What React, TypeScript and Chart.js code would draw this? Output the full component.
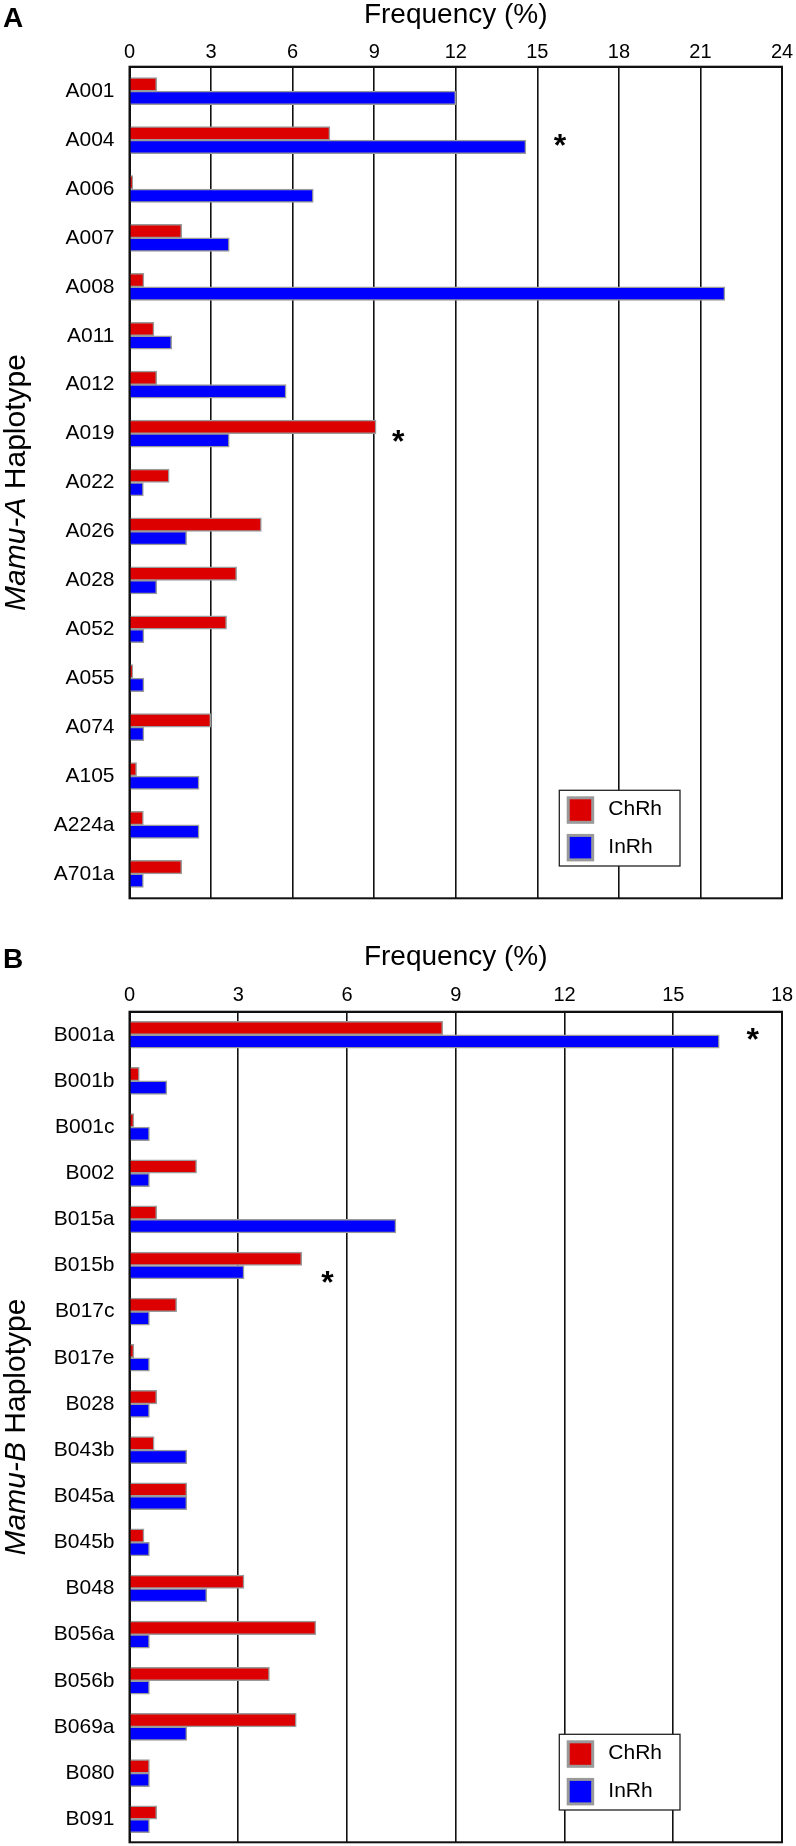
import React, { useEffect, useRef } from 'react';
import { Chart, registerables } from 'chart.js';

Chart.register(...registerables);

const FONT = '"Liberation Sans", Arial, Helvetica, sans-serif';

// ---- shared series ----
const seriesNames = ['ChRh', 'InRh'];
const seriesColors = ['#dd0000', '#0000ff'];
const xTitle = 'Frequency (%)';

// ---- Panel A: Mamu-A ----
const categoriesA = ['A001', 'A004', 'A006', 'A007', 'A008', 'A011', 'A012', 'A019', 'A022', 'A026', 'A028', 'A052', 'A055', 'A074', 'A105', 'A224a', 'A701a'];
const chrhA = [1.0, 7.37, 0.12, 1.92, 0.53, 0.9, 1.0, 9.07, 1.46, 4.85, 3.94, 3.57, 0.12, 2.99, 0.26, 0.51, 1.92];
const inrhA = [12.0, 14.58, 6.76, 3.67, 21.9, 1.55, 5.76, 3.67, 0.51, 2.1, 1.0, 0.53, 0.53, 0.53, 2.56, 2.56, 0.51];
const ticksA = [0, 3, 6, 9, 12, 15, 18, 21, 24];
const starLabelsA = ['A004', 'A019'];
const starValuesA = [15.83, 9.88];

// ---- Panel B: Mamu-B ----
const categoriesB = ['B001a', 'B001b', 'B001c', 'B002', 'B015a', 'B015b', 'B017c', 'B017e', 'B028', 'B043b', 'B045a', 'B045b', 'B048', 'B056a', 'B056b', 'B069a', 'B080', 'B091'];
const chrhB = [8.64, 0.27, 0.12, 1.85, 0.75, 4.75, 1.3, 0.12, 0.75, 0.68, 1.58, 0.4, 3.16, 5.14, 3.86, 4.6, 0.55, 0.75];
const inrhB = [16.27, 1.03, 0.55, 0.55, 7.35, 3.16, 0.55, 0.55, 0.55, 1.58, 1.58, 0.55, 2.13, 0.55, 0.55, 1.58, 0.55, 0.55];
const ticksB = [0, 3, 6, 9, 12, 15, 18];
const starLabelsB = ['B001a', 'B015b'];
const starValuesB = [17.19, 5.46];

type PanelProps = {
  letter: string;
  gene: string;
  categories: string[];
  chrh: number[];
  inrh: number[];
  ticks: number[];
  starLabels: string[];
  starValues: number[];
  starDy: number[];
  top: number;
  height: number;
  padBottom: number;
  xAxisHeight: number;
  tickPad: number;
  titlePad: number;
  letterBaseline: number;
};

function Panel(p: PanelProps) {
  const ref = useRef<HTMLCanvasElement>(null);
  useEffect(() => {
    const canvas = ref.current!;
    const annot = {
      id: 'annot',
      afterDraw(chart: any) {
        const { ctx, chartArea: a, scales } = chart;
        const x = scales.x;
        const y = scales.y;
        ctx.save();
        // frame
        ctx.strokeStyle = '#111';
        ctx.lineWidth = 2;
        ctx.strokeRect(a.left, a.top, a.right - a.left, a.bottom - a.top);

        // panel letter
        ctx.fillStyle = '#000';
        ctx.font = `bold 28px ${FONT}`;
        ctx.textAlign = 'left';
        ctx.textBaseline = 'alphabetic';
        ctx.fillText(p.letter, 3, p.letterBaseline);

        // asterisks
        const sf = 32;
        ctx.font = `bold ${sf}px ${FONT}`;
        ctx.textAlign = 'center';
        p.starLabels.forEach((lab, i) => {
          const idx = p.categories.indexOf(lab);
          const px = x.getPixelForValue(p.starValues[i]);
          const py = y.getPixelForValue(idx) + p.starDy[i];
          ctx.fillText('*', px, py + 0.57 * sf);
        });

        // legend
        const bw = 120.7;
        const bh = 75.7;
        const bx = a.right - 102 - bw;
        const by = a.bottom - 32.3 - bh;
        ctx.fillStyle = '#fff';
        ctx.fillRect(bx, by, bw, bh);
        ctx.strokeStyle = '#222';
        ctx.lineWidth = 1.3;
        ctx.strokeRect(bx, by, bw, bh);
        chart.data.datasets.forEach((ds: any, i: number) => {
          const sy = by + 6 + i * 37.6;
          ctx.fillStyle = '#9a9a9a';
          ctx.fillRect(bx + 7.4, sy, 27.5, 27.5);
          ctx.fillStyle = ds.backgroundColor;
          ctx.fillRect(bx + 10.4, sy + 3, 21.5, 21.5);
          ctx.fillStyle = '#000';
          ctx.font = `21px ${FONT}`;
          ctx.textAlign = 'left';
          ctx.textBaseline = 'middle';
          ctx.fillText(ds.label, bx + 49, by + 18.6 + i * 38);
        });

        // y title (rotated, partly italic)
        ctx.translate(24.8, (a.top + a.bottom) / 2);
        ctx.rotate(-Math.PI / 2);
        ctx.textBaseline = 'alphabetic';
        ctx.textAlign = 'left';
        ctx.fillStyle = '#000';
        const ital = `italic 30px ${FONT}`;
        const norm = `30px ${FONT}`;
        const t1 = `Mamu-${p.gene}`;
        const t2 = ' Haplotype';
        ctx.font = ital;
        const w1 = ctx.measureText(t1).width;
        ctx.font = norm;
        const w2 = ctx.measureText(t2).width;
        const sx = -(w1 + w2) / 2;
        ctx.font = ital;
        ctx.fillText(t1, sx, 0);
        ctx.font = norm;
        ctx.fillText(t2, sx + w1, 0);
        ctx.restore();
      },
    };

    const common = {
      borderColor: '#9a9a9a',
      borderWidth: 1.5,
      barThickness: 13.5,
    };

    const chart = new Chart(canvas, {
      type: 'bar',
      data: {
        labels: p.categories,
        datasets: [
          { label: seriesNames[0], data: p.chrh, backgroundColor: seriesColors[0], ...common },
          { label: seriesNames[1], data: p.inrh, backgroundColor: seriesColors[1], ...common },
        ],
      },
      options: {
        indexAxis: 'y',
        responsive: false,
        animation: false,
        devicePixelRatio: 1,
        layout: { padding: { top: 0, left: 0, right: 14, bottom: p.padBottom } },
        plugins: { legend: { display: false }, tooltip: { enabled: false } },
        scales: {
          x: {
            type: 'linear',
            position: 'top',
            min: p.ticks[0],
            max: p.ticks[p.ticks.length - 1],
            afterFit: (s: any) => {
              s.height = p.xAxisHeight;
              s.paddingLeft = 0;
              s.paddingRight = 0;
            },
            ticks: {
              stepSize: p.ticks[1] - p.ticks[0],
              padding: p.tickPad,
              color: '#000',
              font: { size: 20, family: FONT },
            },
            grid: { color: '#111', lineWidth: 1.6, drawTicks: false },
            border: { display: true, color: '#111', width: 2 },
            title: {
              display: true,
              text: xTitle,
              color: '#000',
              font: { size: 28, family: FONT, lineHeight: 1 },
              padding: { top: p.titlePad, bottom: 0 },
            },
          },
          y: {
            afterFit: (s: any) => {
              s.width = 129.5;
              s.paddingTop = 0;
              s.paddingBottom = 0;
            },
            grid: { display: false, drawTicks: false },
            border: { display: true, color: '#111', width: 2 },
            ticks: { padding: 15, color: '#000', font: { size: 21, family: FONT } },
          },
        },
      } as any,
      plugins: [annot],
    });
    return () => chart.destroy();
  }, []);

  return (
    <canvas
      ref={ref}
      width={796}
      height={p.height}
      style={{ position: 'absolute', left: 0, top: p.top, display: 'block', width: 796, height: p.height }}
    />
  );
}

export default function App() {
  return (
    <div style={{ position: 'absolute', left: 0, top: 0, width: 796, height: 1846, background: '#fff', overflow: 'hidden' }}>
      <Panel
        letter="A"
        gene="A"
        categories={categoriesA}
        chrh={chrhA}
        inrh={inrhA}
        ticks={ticksA}
        starLabels={starLabelsA}
        starValues={starValuesA}
        starDy={[-2.6, 0]}
        top={0}
        height={930}
        padBottom={31.7}
        xAxisHeight={66.7}
        tickPad={2.2}
        titlePad={1.2}
        letterBaseline={27}
      />
      <Panel
        letter="B"
        gene="B"
        categories={categoriesB}
        chrh={chrhB}
        inrh={inrhB}
        ticks={ticksB}
        starLabels={starLabelsB}
        starValues={starValuesB}
        starDy={[-3, 9]}
        top={930}
        height={916}
        padBottom={3.7}
        xAxisHeight={81.7}
        tickPad={4.7}
        titlePad={12.9}
        letterBaseline={38.3}
      />
    </div>
  );
}
